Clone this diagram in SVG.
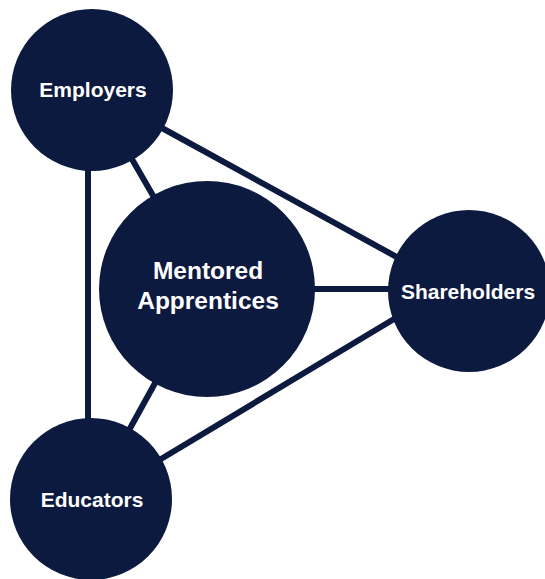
<svg xmlns="http://www.w3.org/2000/svg" width="545" height="579" viewBox="0 0 545 579">
  <style>
    .edge { stroke: #0c1a3f; stroke-width: 6; fill: none; }
    .node { fill: #0c1a3f; }
    .lbl { fill: #ffffff; font-family: "Liberation Sans", Arial, Helvetica, sans-serif; font-weight: bold; text-anchor: middle; }
  </style>
  <rect width="545" height="579" fill="#ffffff"/>
  <g id="connectors">
    <line class="edge" x1="88" y1="150" x2="88" y2="440"/>
    <line class="edge" x1="92" y1="90" x2="207" y2="289"/>
    <line class="edge" x1="207" y1="289" x2="91" y2="499"/>
    <line class="edge" x1="305" y1="289" x2="400" y2="289"/>
    <line class="edge" x1="151" y1="122" x2="404" y2="261"/>
    <line class="edge" x1="151" y1="465" x2="404" y2="313"/>
  </g>
  <g id="employers">
    <circle class="node" cx="92" cy="90" r="81"/>
    <text class="lbl" x="93" y="97" font-size="21">Employers</text>
  </g>
  <g id="mentored-apprentices">
    <circle class="node" cx="207" cy="289" r="108"/>
    <text class="lbl" x="208" y="279" font-size="24.5">Mentored</text>
    <text class="lbl" x="208" y="309" font-size="24.5">Apprentices</text>
  </g>
  <g id="shareholders">
    <circle class="node" cx="469" cy="291" r="81"/>
    <text class="lbl" x="468" y="299" font-size="21">Shareholders</text>
  </g>
  <g id="educators">
    <circle class="node" cx="91" cy="499" r="81"/>
    <text class="lbl" x="92" y="507" font-size="21">Educators</text>
  </g>
</svg>
